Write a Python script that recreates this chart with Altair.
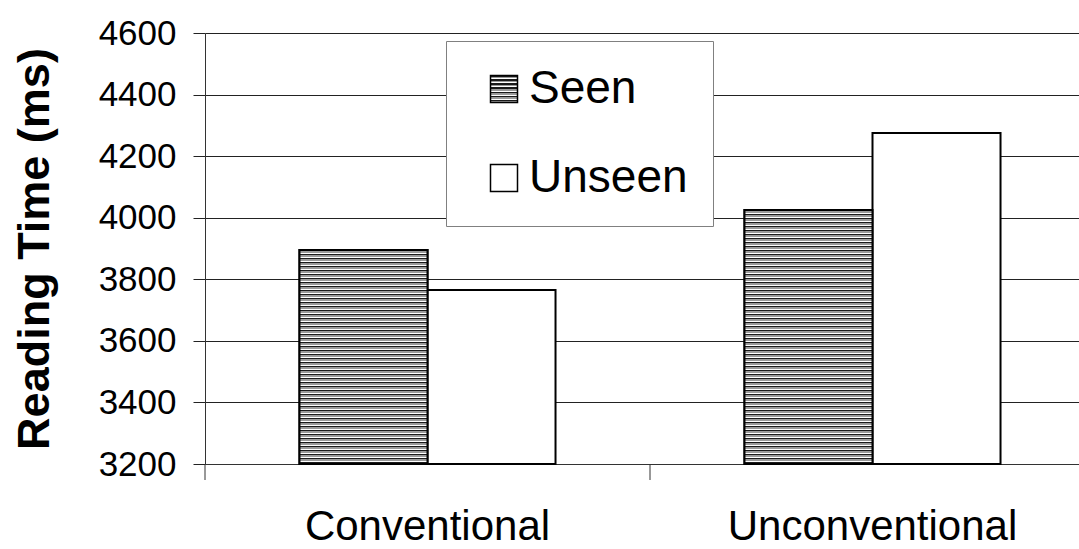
import json
import math
import altair as alt
import pandas as pd

categories = ["Conventional", "Unconventional"]
conditions = ["Seen", "Unseen"]
seen_values = [3895, 4025]
unseen_values = [3765, 4275]
y_ticks = [3200, 3400, 3600, 3800, 4000, 4200, 4400, 4600]

rows = []
for i, c in enumerate(categories):
    rows.append({"category": c, "condition": "Seen", "value": seen_values[i]})
    rows.append({"category": c, "condition": "Unseen", "value": unseen_values[i]})
df = pd.DataFrame(rows)
seen_df = df[df["condition"] == "Seen"]
tick_df = pd.DataFrame({"category": categories})

W, H = 874, 431
YMIN, YMAX = 3200, 4600
FONT = "Liberation Sans"


def stripes(height_px, period=4.0):
    # horizontal stripes with a fixed pixel period inside a box of height_px
    seq = [(0.0, "#1a1a1a"), (1.2, "#1a1a1a"), (1.2, "#9a9a9a"), (3.0, "#9a9a9a"),
           (3.0, "#ffffff"), (4.0, "#ffffff")]
    stops = []
    n = math.ceil(height_px / period)
    for k in range(n):
        for o, col in seq:
            off = min(1.0, (k * period + o * period / 4.0) / height_px)
            stops.append({"offset": round(off, 6), "color": col})
    return {"gradient": "linear", "x1": 0, "y1": 0, "x2": 0, "y2": 1, "stops": stops}


px = H / (YMAX - YMIN)
g_conv = stripes((seen_values[0] - YMIN) * px)
g_unconv = stripes((seen_values[1] - YMIN) * px)
g_legend = stripes(27)

x_enc = alt.X("category:N", sort=categories,
              scale=alt.Scale(range=[0, 890], paddingInner=0, paddingOuter=0),
              axis=alt.Axis(title=None, labelFontSize=42, labelFont=FONT, labelColor="black",
                            ticks=False, tickSize=0, labelPadding=42, domainColor="#333",
                            domainWidth=1, labelAngle=0, labelLimit=500))
xoff = alt.XOffset("condition:N", sort=conditions,
                   scale=alt.Scale(paddingInner=0, paddingOuter=0.738))
y_enc = alt.Y("value:Q", scale=alt.Scale(domain=[YMIN, YMAX], zero=False, nice=False),
              axis=alt.Axis(title="Reading Time (ms)", values=y_ticks, format="d",
                            titleFontSize=45, titleFont=FONT, titleFontWeight="bold",
                            titleColor="black", titlePadding=41,
                            labelFontSize=35, labelFont=FONT, labelColor="black",
                            labelPadding=17, tickSize=12, tickColor="#222",
                            domainColor="#333", gridColor="#222", gridWidth=1, grid=True))

legend = alt.Legend(
    title=None, orient="none", legendX=241, legendY=8, direction="vertical",
    labelFontSize=46, labelFont=FONT, labelColor="black", labelOffset=2,
    symbolType="square", symbolSize=729, symbolStrokeColor="black", symbolStrokeWidth=1.5,
    symbolOffset=10, padding=25, rowPadding=43, fillColor="white", strokeColor="#808080",
    labelLimit=400,
)

bars = alt.Chart(df).mark_bar(stroke="black", strokeWidth=2, opacity=1).encode(
    x=x_enc, xOffset=xoff, y=y_enc, y2=alt.datum(YMIN),
    color=alt.Color("condition:N", sort=conditions,
                    scale=alt.Scale(domain=conditions,
                                    range=[{"expr": json.dumps(g_legend)}, "white"]),
                    legend=legend),
)

seen_bars = alt.Chart(seen_df).mark_bar(stroke="black", strokeWidth=2).encode(
    x=alt.X("category:N", sort=categories),
    xOffset=alt.XOffset("condition:N", sort=conditions),
    y=alt.Y("value:Q"), y2=alt.datum(YMIN),
    fill=alt.condition("datum.category === 'Conventional'", alt.value(g_conv), alt.value(g_unconv)),
)

ticks = alt.Chart(tick_df).mark_rule(color="#333", strokeWidth=1).encode(
    x=alt.X("category:N", sort=categories, bandPosition=0),
    y=alt.value(H), y2=alt.value(H + 16),
)

chart = alt.layer(bars, seen_bars, ticks).properties(
    width=W, height=H,
    autosize=alt.AutoSizeParams(type="none"),
    padding={"left": 205, "top": 33, "right": 0, "bottom": 85},
).configure_view(stroke=None).configure(background="white")

chart.save("out.html", embed_options={"renderer": "svg", "actions": False})
